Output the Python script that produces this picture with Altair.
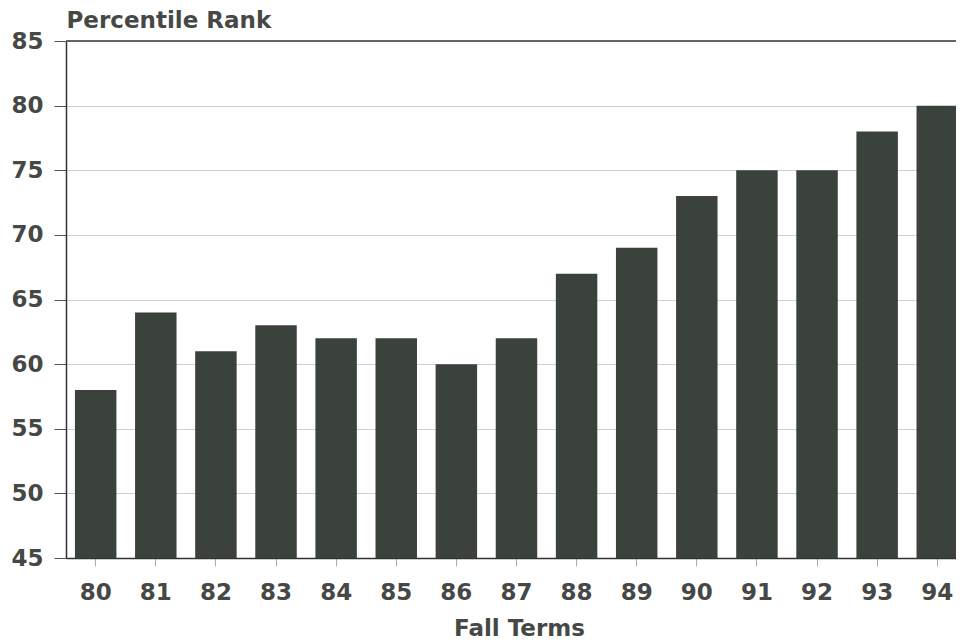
import altair as alt
import pandas as pd

terms = ["80", "81", "82", "83", "84", "85", "86", "87", "88", "89", "90", "91", "92", "93", "94"]
ranks = [58, 64, 61, 63, 62, 62, 60, 62, 67, 69, 73, 75, 75, 78, 80]
y_ticks = [45, 50, 55, 60, 65, 70, 75, 80, 85]
y_min, y_max = 45, 85

df = pd.DataFrame({"term": terms, "rank": ranks})

FONT = "DejaVu Sans"
TXT = "#454845"
FS = 23

yscale = alt.Scale(domain=[y_min, y_max], nice=False, zero=False)

bars = alt.Chart(df).mark_bar(color="#3b423c").encode(
    x=alt.X("term:N", sort=terms,
            scale=alt.Scale(range=[0, 892], paddingInner=0.31, paddingOuter=0.0744, align=1),
            axis=alt.Axis(title="Fall Terms", labelAngle=0, labelFont=FONT, labelFontSize=FS,
                          labelFontWeight="bold", labelColor=TXT, labelPadding=15,
                          tickSize=8, tickColor="#aaaaaa", tickWidth=1,
                          domainColor="#333333", domainWidth=1.5,
                          titleFont=FONT, titleFontSize=FS, titleFontWeight="bold",
                          titleColor=TXT, titleX=453, titleY=77, titleBaseline="alphabetic",
                          titleAnchor="start", titleAlign="center")),
    y=alt.Y("rank:Q", scale=yscale,
            axis=alt.Axis(title="Percentile Rank", values=y_ticks, labelFont=FONT,
                          labelFontSize=FS, labelFontWeight="bold", labelColor=TXT,
                          labelPadding=11, tickSize=12, tickColor="#555555",
                          domainColor="#333333", domainWidth=1.5,
                          grid=True, gridColor="#cfcfcf", gridWidth=1,
                          titleAngle=0, titleAlign="left", titleX=0, titleY=-14,
                          titleBaseline="alphabetic", titleFont=FONT, titleFontSize=FS,
                          titleFontWeight="bold", titleColor=TXT)),
    y2=alt.datum(y_min),
)

top_line = alt.Chart(df).mark_rule(color="#666666", strokeWidth=1.5).encode(
    y=alt.datum(y_max, scale=yscale)
)

chart = alt.layer(bars, top_line).properties(
    width=890, height=517,
    autosize=alt.AutoSizeParams(type="none"),
    padding={"left": 58, "top": 33, "right": 0, "bottom": 84},
).configure_view(stroke=None)

chart.save("out.html", embed_options={"renderer": "svg", "actions": False})
